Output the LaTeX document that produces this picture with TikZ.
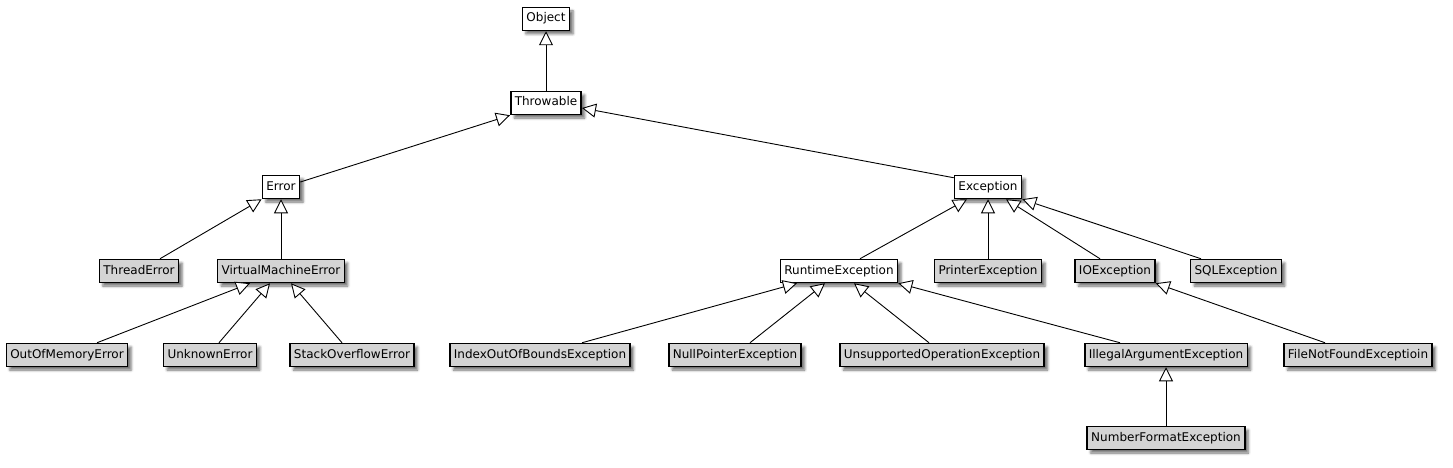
\documentclass[tikz,border=0pt]{standalone}
\usepackage{fontspec}
\setmainfont{DejaVu Sans}
\usetikzlibrary{arrows.meta,shadows.blur}

\begin{document}
\begin{tikzpicture}[x=1pt, y=-1pt,
    cls/.style={rectangle, draw=black, line width=1.5pt, fill=white,
        minimum height=23pt, inner xsep=4pt, inner ysep=0pt,
        text height=9pt, text depth=3pt, font=\fontsize{12}{14}\selectfont,
        blur shadow={shadow xshift=3.5pt, shadow yshift=-3.5pt,
            shadow blur radius=2.5pt, shadow opacity=55}},
    leaf/.style={cls, fill=black!17},
    edge/.style={line width=0.9pt, -{Triangle[length=14pt, width=14pt, fill=white]}}
]
    \useasboundingbox (0,0) rectangle (1453,468);
    \node[cls] (object) at (546,19) {Object};
    \node[cls] (throwable) at (546,103) {Throwable};
    \node[cls] (error) at (281,187) {Error};
    \node[cls] (exception) at (988,187) {Exception};
    \node[leaf] (threaderr) at (139,271) {ThreadError};
    \node[leaf] (vmerr) at (281,271) {VirtualMachineError};
    \node[cls] (runtime) at (839,271) {RuntimeException};
    \node[leaf] (printer) at (988,271) {PrinterException};
    \node[leaf] (ioexc) at (1115,271) {IOException};
    \node[leaf] (sqlexc) at (1236,271) {SQLException};
    \node[leaf] (oom) at (67,355) {OutOfMemoryError};
    \node[leaf] (unknown) at (210,355) {UnknownError};
    \node[leaf] (stackov) at (352,355) {StackOverflowError};
    \node[leaf] (indexoob) at (540,355) {IndexOutOfBoundsException};
    \node[leaf] (nullptr) at (735,355) {NullPointerException};
    \node[leaf] (unsupported) at (942,355) {UnsupportedOperationException};
    \node[leaf] (illegalarg) at (1166,355) {IllegalArgumentException};
    \node[leaf] (filenf) at (1358,355) {FileNotFoundExceptioin};
    \node[leaf] (numfmt) at (1166,438) {NumberFormatException};
    \draw[edge] (throwable.north) -- (object.south);
    \draw[edge] ([yshift=5pt]error.east) -- (throwable.south west);
    \draw[edge] ([yshift=-3pt]exception.north west) -- ([yshift=-5pt]throwable.east);
    \draw[edge] ([xshift=21pt]threaderr.north) -- (error.south west);
    \draw[edge] (vmerr.north) -- (error.south);
    \draw[edge] ([xshift=30pt]oom.north) -- ([xshift=-31pt]vmerr.south);
    \draw[edge] ([xshift=9pt]unknown.north) -- ([xshift=-11pt]vmerr.south);
    \draw[edge] ([xshift=-10pt]stackov.north) -- ([xshift=10pt]vmerr.south);
    \draw[edge] ([xshift=21pt]runtime.north) -- ([xshift=-21pt]exception.south);
    \draw[edge] (printer.north) -- (exception.south);
    \draw[edge] ([xshift=-15pt]ioexc.north) -- ([xshift=18pt]exception.south);
    \draw[edge] ([xshift=-35pt]sqlexc.north) -- (exception.south east);
    \draw[edge] ([xshift=42pt]indexoob.north) -- ([xshift=-42pt]runtime.south);
    \draw[edge] ([xshift=15pt]nullptr.north) -- ([xshift=-14pt]runtime.south);
    \draw[edge] ([xshift=-13pt]unsupported.north) -- ([xshift=15pt]runtime.south);
    \draw[edge] ([xshift=-46pt]illegalarg.north) -- (runtime.south east);
    \draw[edge] (numfmt.north) -- (illegalarg.south);
    \draw[edge] ([xshift=-33pt]filenf.north) -- (ioexc.south east);
\end{tikzpicture}
\end{document}
